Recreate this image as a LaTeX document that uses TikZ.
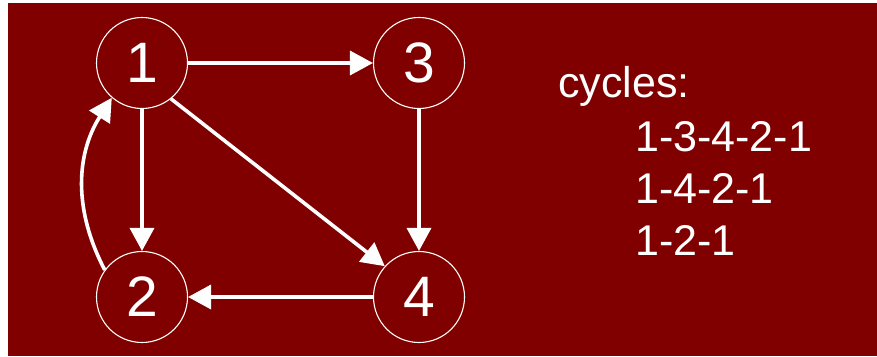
\documentclass[tikz,border=0pt]{standalone}
\usepackage{fontspec}
\setmainfont{Liberation Sans}
\usetikzlibrary{arrows.meta}
\definecolor{darkred}{HTML}{800000}
\tikzset{
    vertex/.style={circle, draw=white, line width=1.1pt, minimum size=91pt, inner sep=0pt,
        text=white, font=\fontsize{57}{60}\selectfont},
    edge/.style={white, line width=3.6pt, -{Triangle[length=23pt,width=24pt]}},
    cyc/.style={anchor=base west, text=white, inner sep=0pt, font=\fontsize{43}{46}\selectfont}
}
\begin{document}
\begin{tikzpicture}[x=1pt,y=-1pt]
        \useasboundingbox (0,0) rectangle (877,356);
        \fill[darkred] (8,3) rectangle (877,356);

        % vertices
        \node[vertex] (n1) at (142,63) {1};
        \node[vertex] (n3) at (419,63) {3};
        \node[vertex] (n2) at (142,297) {2};
        \node[vertex] (n4) at (419,297) {4};

        % edges
        \draw[edge] (n1) -- (n3);
        \draw[edge] (n1) -- (n2);
        \draw[edge] (n3) -- (n4);
        \draw[edge] (n4) -- (n2);
        \draw[edge] (n1.-51) -- (n4.138);
        \draw[edge] (n2.144) to[bend left=30] (n1.229);

        % list of cycles
        \node[cyc] (title) at (558,97) {cycles:};
        \node[cyc] (c1) at (635,151) {1-3-4-2-1};
        \node[cyc] (c2) at (635,203) {1-4-2-1};
        \node[cyc] (c3) at (635,255) {1-2-1};
    \end{tikzpicture}
\end{document}
